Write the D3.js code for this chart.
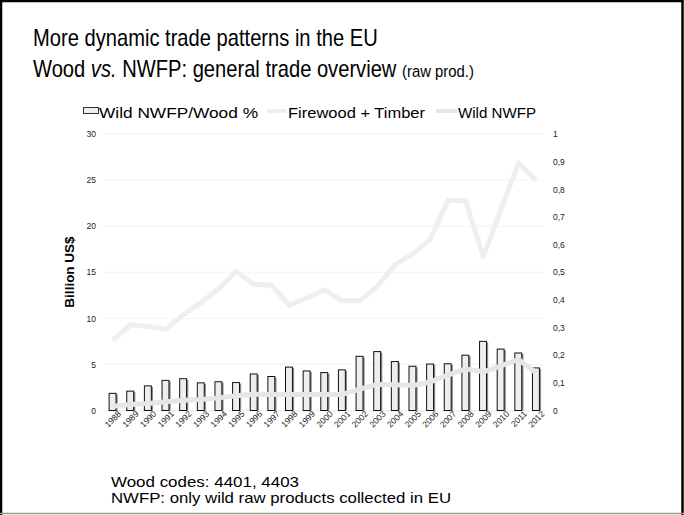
<!DOCTYPE html>
<html>
<head>
<meta charset="utf-8">
<script src="https://cdn.jsdelivr.net/npm/d3@7"></script>
<style>
  body { margin: 0; background: #fff; }
  svg { display: block; font-family: "Liberation Sans", Arial, sans-serif; }
</style>
</head>
<body>
<svg id="chart" width="684" height="515"></svg>
<script>
const years = ['1988', '1989', '1990', '1991', '1992', '1993', '1994', '1995', '1996', '1997',
    '1998', '1999', '2000', '2001', '2002', '2003', '2004', '2005', '2006', '2007',
    '2008', '2009', '2010', '2011', '2012'];
// ratio, right axis (0..1)
const ratioShare = [0.062, 0.070, 0.089, 0.109, 0.115, 0.100, 0.104, 0.101, 0.132, 0.123,
    0.157, 0.143, 0.137, 0.147, 0.196, 0.213, 0.177, 0.160, 0.168, 0.169,
    0.200, 0.250, 0.222, 0.208, 0.154];
// billion US$, left axis
const firewoodTimber = [7.6, 9.3, 9.1, 8.8, 10.4, 11.7, 13.2, 15.1, 13.7, 13.6,
    11.4, 12.2, 13.1, 11.9, 11.9, 13.5, 15.8, 17.0, 18.6, 22.8,
    22.75, 16.7, 21.8, 26.85, 25.0];
const wildNwfp = [0.47, 0.65, 0.76, 0.94, 1.12, 1.2, 1.37, 1.59, 1.77, 1.74,
    1.74, 1.74, 1.74, 1.74, 2.31, 2.83, 2.8, 2.72, 3.1, 3.84,
    4.52, 4.2, 4.85, 5.54, 4.09];
const leftTicks = [0, 5, 10, 15, 20, 25, 30];
const rightTicks = [0, 0.1, 0.2, 0.3, 0.4, 0.5, 0.6, 0.7, 0.8, 0.9, 1];

const svg = d3.select('#chart');
const plot = {left: 104, right: 545, top: 134, bottom: 410.5};
const tickFont = '"Liberation Sans", Arial, sans-serif';

// slide frame
svg.append('rect').attr('x', 1).attr('y', 1).attr('width', 681.5).attr('height', 530)
    .attr('fill', 'none').attr('stroke', '#000').attr('stroke-width', 2.5);
svg.append('line').attr('x1', 0).attr('x2', 684).attr('y1', 513.5).attr('y2', 513.5)
    .attr('stroke', '#999').attr('stroke-width', 1.5);

// titles (narrow, like the slide's Helvetica)
const titles = svg.append('g').attr('transform', 'translate(33, 0) scale(0.876, 1)');
titles.append('text').attr('x', 0).attr('y', 46.5).attr('font-size', 23)
    .text('More dynamic trade patterns in the EU');
const t2 = titles.append('text').attr('x', 0).attr('y', 77).attr('font-size', 23);
t2.append('tspan').text('Wood ');
t2.append('tspan').attr('font-style', 'italic').text('vs.');
t2.append('tspan').text(' NWFP: general trade overview ');
t2.append('tspan').attr('font-size', 17).text('(raw prod.)');

const xScale = d3.scaleBand().domain(years)
    .range([plot.left, plot.right]).paddingInner(0.58).paddingOuter(0.29);
const yLeft = d3.scaleLinear().domain([0, 30]).range([plot.bottom, plot.top]);
const yRight = d3.scaleLinear().domain([0, 1]).range([plot.bottom, plot.top]);

// gridlines
svg.append('g').selectAll('line').data(leftTicks).enter().append('line')
    .attr('x1', plot.left).attr('x2', plot.right)
    .attr('y1', d => yLeft(d)).attr('y2', d => yLeft(d))
    .attr('stroke', '#f3f3f3').attr('stroke-width', 1);

// left axis
svg.append('g')
    .attr('transform', `translate(${plot.left - 6}, 0)`)
    .call(d3.axisLeft(yLeft).tickValues(leftTicks).tickSize(0).tickPadding(2))
    .call(g => g.select('.domain').remove())
    .call(g => g.selectAll('text').attr('font-size', 8.5).attr('fill', '#222')
        .attr('font-family', tickFont));

// right axis
const commaFmt = d => d === 0 ? '0' : d === 1 ? '1' : d3.format('.1f')(d).replace('.', ',');
svg.append('g')
    .attr('transform', `translate(${plot.right + 6}, 0)`)
    .call(d3.axisRight(yRight).tickValues(rightTicks).tickFormat(commaFmt).tickSize(0).tickPadding(2))
    .call(g => g.select('.domain').remove())
    .call(g => g.selectAll('text').attr('font-size', 8.5).attr('fill', '#222')
        .attr('font-family', tickFont));

// x axis
const xAxis = svg.append('g')
    .attr('transform', `translate(0, ${plot.bottom})`)
    .call(d3.axisBottom(xScale).tickSize(0).tickPadding(4))
    .call(g => g.select('.domain').attr('stroke', '#eee'));
xAxis.selectAll('text')
    .attr('font-size', 8.5).attr('fill', '#222')
    .attr('font-family', tickFont)
    .attr('text-anchor', 'end')
    .attr('dx', '0.4em').attr('dy', '0.6em')
    .attr('transform', 'rotate(-45)');

// y title
svg.append('text')
    .attr('transform', 'translate(74, 272) rotate(-90)')
    .attr('text-anchor', 'middle').attr('font-size', 13.5).attr('font-weight', 'bold')
    .text('Billion US$');

// bars (right axis)
const bw = xScale.bandwidth();
const barData = years.map((y, i) => ({year: y, value: ratioShare[i]}));
svg.append('g').selectAll('rect').data(barData).enter().append('rect')
    .attr('x', d => xScale(d.year) + 1.2)
    .attr('y', d => yRight(d.value) + 1)
    .attr('width', bw)
    .attr('height', d => plot.bottom - yRight(d.value) - 1)
    .attr('fill', '#8a8a8a');
svg.append('g').selectAll('rect').data(barData).enter().append('rect')
    .attr('x', d => xScale(d.year))
    .attr('y', d => yRight(d.value))
    .attr('width', bw - 0.5)
    .attr('height', d => plot.bottom - yRight(d.value))
    .attr('fill', '#eeeeee').attr('stroke', '#111').attr('stroke-width', 1);

// lines (left axis)
const cx = y => xScale(y) + bw / 2;
const line = d3.line().x((d, i) => cx(years[i])).y(d => yLeft(d));
svg.append('path').datum(firewoodTimber).attr('d', line)
    .attr('fill', 'none').attr('stroke', '#efefef').attr('stroke-width', 5)
    .attr('stroke-linejoin', 'round');
svg.append('path').datum(wildNwfp).attr('d', line)
    .attr('fill', 'none').attr('stroke', '#e6e6e6').attr('stroke-width', 5)
    .attr('stroke-linejoin', 'round');

// legend
const lg = svg.append('g').attr('font-size', 15.5);
lg.append('rect').attr('x', 83.5).attr('y', 107.5).attr('width', 15).attr('height', 6)
    .attr('fill', '#eee').attr('stroke', '#333').attr('stroke-width', 1);
lg.append('text').attr('x', 99).attr('y', 118).text('Wild NWFP/Wood %')
    .attr('textLength', 159).attr('lengthAdjust', 'spacingAndGlyphs');
lg.append('line').attr('x1', 267).attr('x2', 287).attr('y1', 111).attr('y2', 111)
    .attr('stroke', '#efefef').attr('stroke-width', 4);
lg.append('text').attr('x', 288).attr('y', 118).text('Firewood + Timber')
    .attr('textLength', 137).attr('lengthAdjust', 'spacingAndGlyphs');
lg.append('line').attr('x1', 436).attr('x2', 457).attr('y1', 111).attr('y2', 111)
    .attr('stroke', '#e6e6e6').attr('stroke-width', 4);
lg.append('text').attr('x', 458).attr('y', 118).text('Wild NWFP')
    .attr('textLength', 78).attr('lengthAdjust', 'spacingAndGlyphs');

// footnotes
svg.append('text').attr('x', 111).attr('y', 487).attr('font-size', 14.5)
    .attr('textLength', 188).attr('lengthAdjust', 'spacingAndGlyphs')
    .text('Wood codes: 4401, 4403');
svg.append('text').attr('x', 111).attr('y', 503).attr('font-size', 14.5)
    .attr('textLength', 340).attr('lengthAdjust', 'spacingAndGlyphs')
    .text('NWFP: only wild raw products collected in EU');
</script>
</body>
</html>
